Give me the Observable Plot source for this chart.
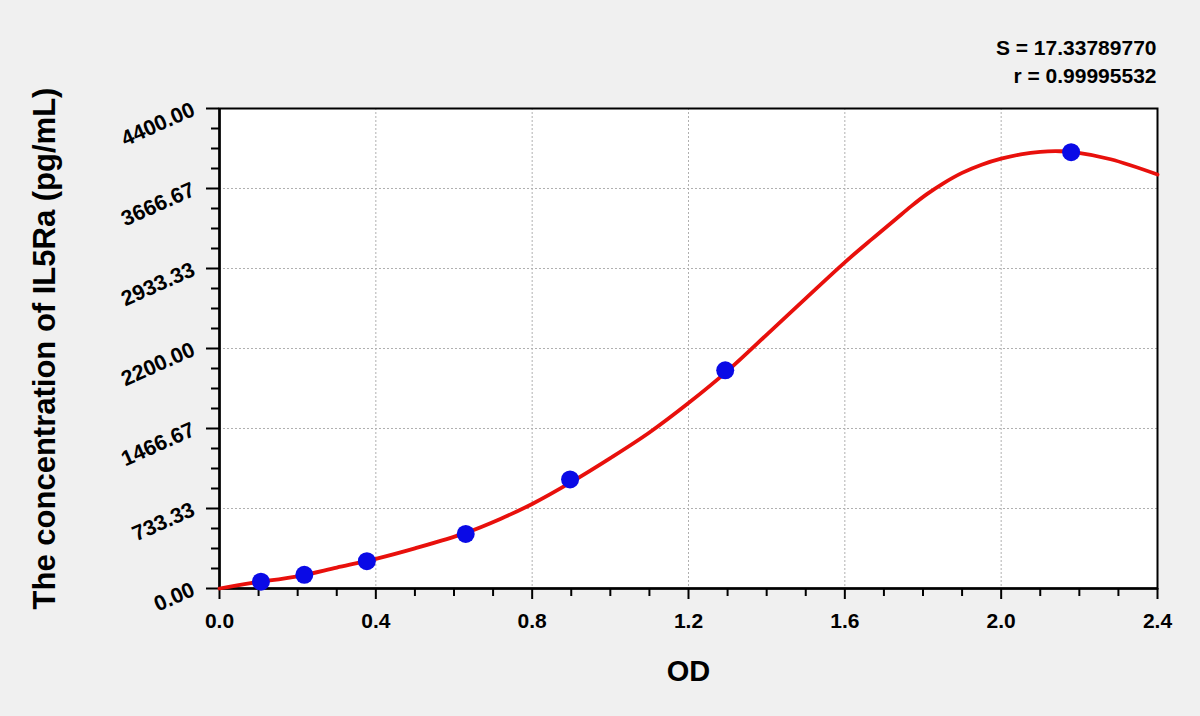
<!DOCTYPE html>
<html>
<head>
<meta charset="utf-8">
<script src="https://cdn.jsdelivr.net/npm/d3@7"></script>
<script src="https://cdn.jsdelivr.net/npm/@observablehq/plot@0.6"></script>
<style>
  html, body { margin: 0; padding: 0; background: #f0f0f0; }
  #chart { width: 1200px; height: 716px; }
</style>
</head>
<body>
<div id="chart"></div>
<script>
// Standards (measured points)
const standardOD = [0.106, 0.217, 0.377, 0.630, 0.897, 1.294, 2.179];
const standardConc = [62.5, 125, 250, 500, 1000, 2000, 4000];

// Fitted curve
const curveOD = [0.00, 0.08, 0.20, 0.30, 0.40, 0.50, 0.63, 0.72, 0.80, 0.90, 1.00, 1.10, 1.20, 1.30, 1.41, 1.50, 1.60, 1.67, 1.73, 1.77, 1.81, 1.85, 1.90, 1.95, 2.00, 2.05, 2.10, 2.15, 2.19, 2.28, 2.40];
const curveConc = [0, 50, 112, 192, 272, 368, 510, 640, 775, 975, 1195, 1430, 1700, 1995, 2360, 2660, 2990, 3205, 3385, 3505, 3615, 3710, 3810, 3885, 3940, 3980, 4003, 4008, 3998, 3935, 3795];

// Axis ticks
const xMajor = [0.0, 0.4, 0.8, 1.2, 1.6, 2.0, 2.4];
const xMinor = [0.1, 0.2, 0.3, 0.5, 0.6, 0.7, 0.9, 1.0, 1.1, 1.3, 1.4, 1.5, 1.7, 1.8, 1.9, 2.1, 2.2, 2.3];
const yMajor = [0, 733.33, 1466.67, 2200, 2933.33, 3666.67, 4400];
const yMinor = [183.33, 366.67, 550, 916.67, 1100, 1283.33, 1650, 1833.33, 2016.67, 2383.33, 2566.67, 2750, 3116.67, 3300, 3483.33, 3850, 4033.33, 4216.67];

const statLines = ["S = 17.33789770", "r = 0.99995532"];
const xLabel = "OD";
const yLabel = "The concentration of IL5Ra (pg/mL)";

const points = standardOD.map((x, i) => ({x, y: standardConc[i]}));
const curve = curveOD.map((x, i) => ({x, y: curveConc[i]}));

const FONT = "'Liberation Sans', Arial, Helvetica, sans-serif";

const chart = Plot.plot({
  width: 1200,
  height: 716,
  marginLeft: 219,
  marginRight: 43,
  marginTop: 108,
  marginBottom: 128,
  style: {background: "#f0f0f0", fontFamily: FONT, color: "black"},
  x: {domain: [0, 2.4]},
  y: {domain: [0, 4400]},
  marks: [
    Plot.frame({fill: "white", stroke: null}),
    Plot.gridX(xMajor.slice(1, -1), {stroke: "#b0b0b0", strokeOpacity: 1, strokeDasharray: "2,2", strokeWidth: 1}),
    Plot.gridY(yMajor.slice(1, -1), {stroke: "#b0b0b0", strokeOpacity: 1, strokeDasharray: "2,2", strokeWidth: 1}),
    Plot.axisX({ticks: xMinor, tickSize: 8, tickFormat: () => "", label: null, strokeWidth: 2}),
    Plot.axisX({ticks: xMajor, tickSize: 11, tickPadding: 14, tickFormat: d => d.toFixed(1), label: null,
      fontSize: 21, fontWeight: "bold", strokeWidth: 2}),
    Plot.axisY({ticks: yMinor, tickSize: 8, tickFormat: () => "", label: null, strokeWidth: 2}),
    Plot.axisY({ticks: yMajor, tickSize: 13, tickPadding: 13, tickRotate: -24, tickFormat: d => d.toFixed(2), label: null,
      fontSize: 21.5, fontWeight: "bold", strokeWidth: 2}),
    Plot.frame({stroke: "black", strokeWidth: 2}),
    Plot.ruleX([0], {stroke: "black", strokeWidth: 2.5}),
    Plot.ruleY([0], {stroke: "black", strokeWidth: 2.5}),
    Plot.line(curve, {x: "x", y: "y", stroke: "#e8100c", strokeWidth: 3.8, curve: "catmull-rom"}),
    Plot.dot(points, {x: "x", y: "y", r: 9, fill: "#0a0ae6", stroke: null}),
    Plot.text([statLines[0]], {text: d => d, frameAnchor: "top-right", dx: -1, dy: -68, textAnchor: "end",
      fontSize: 21, fontWeight: "bold", fill: "black"}),
    Plot.text([statLines[1]], {text: d => d, frameAnchor: "top-right", dx: -1, dy: -40, textAnchor: "end",
      fontSize: 21, fontWeight: "bold", fill: "black"}),
    Plot.text([xLabel], {text: d => d, frameAnchor: "bottom", dy: 92, fontSize: 29, fontWeight: "bold", fill: "black"}),
    Plot.text([yLabel], {text: d => d, frameAnchor: "left", dx: -174, rotate: -90, textAnchor: "middle",
      fontSize: 31, fontWeight: "bold", fill: "black"})
  ]
});

document.getElementById("chart").appendChild(chart);
</script>
</body>
</html>
